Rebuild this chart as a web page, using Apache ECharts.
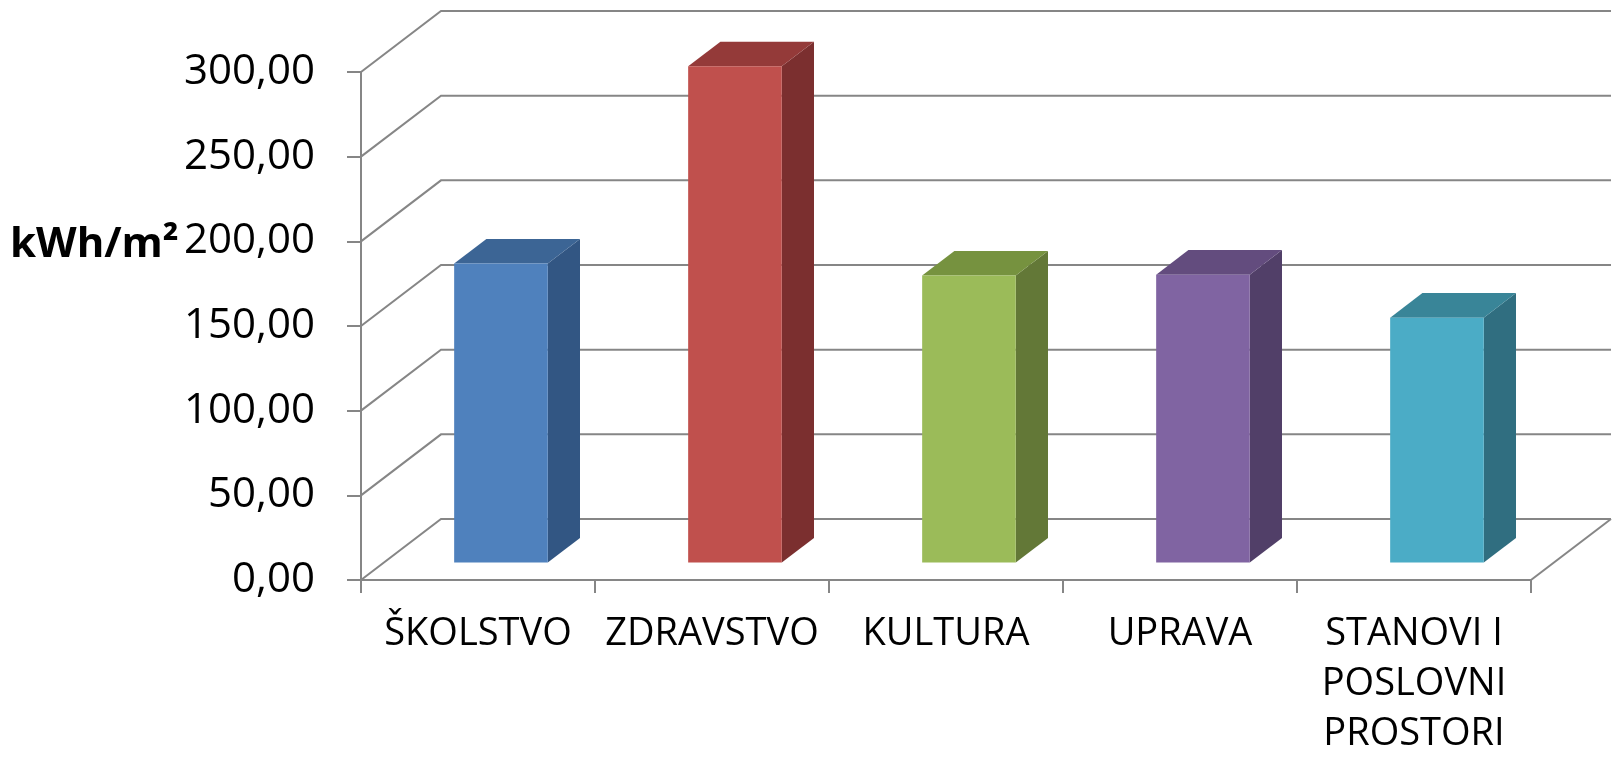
<!DOCTYPE html>
<html>
<head>
<meta charset="utf-8">
<script src="https://cdn.jsdelivr.net/npm/echarts@6/dist/echarts.min.js"></script>
<style>
    html, body { margin: 0; padding: 0; background: #fff; }
    #chart { width: 1617px; height: 759px; }
</style>
</head>
<body>
<div id="chart"></div>
<script>
    // podaci
    const categories = ["ŠKOLSTVO", "ZDRAVSTVO", "KULTURA", "UPRAVA", "STANOVI I\nPOSLOVNI\nPROSTORI"];
    const values = [176.5, 293, 169.5, 170, 144.6];
    const yTicks = [0, 50, 100, 150, 200, 250, 300];

    // boje: prednja strana, vrh, bok
    const faceColors = ["#4F81BD", "#C0504D", "#9BBB59", "#8064A2", "#4BACC6"];
    const topColors = ["#3C6595", "#943A39", "#76923F", "#634C7E", "#398598"];
    const sideColors = ["#325683", "#7B2F2F", "#637837", "#513F68", "#306E80"];

    // dubina 3D prikaza (px)
    const DX = 80;
    const DY = -61;
    const F0 = 0.287; // prednja strana stupca
    const F1 = 0.69;  // zadnja strana stupca
    const BAR_W = 0.40;
    const lineColor = "#868686";
    const font = "'Open Sans', 'Liberation Sans', sans-serif";

    const chart = echarts.init(document.getElementById("chart"));

    // zidovi i pod (pomoćne linije)
    const renderWall = (params, api) => {
        const v = api.value(1);
        const bw = api.size([1, 0])[0];
        const p = api.coord([0, v]);
        const pr = api.coord([categories.length - 1, v]);
        const left = p[0] - bw / 2;
        const right = pr[0] + bw / 2;
        const y = p[1];
        const children = [{
            type: "polyline",
            shape: { points: [[left, y], [left + DX, y + DY], [right + DX, y + DY]] },
            style: { stroke: lineColor, lineWidth: 2, fill: null }
        }];
        if (v === 0) {
            children.push({
                type: "polyline",
                shape: { points: [[right, y], [right + DX, y + DY]] },
                style: { stroke: lineColor, lineWidth: 2, fill: null }
            });
        }
        return { type: "group", children: children };
    };

    // 3D stupci
    const renderBar = (params, api) => {
        const i = params.dataIndex;
        const top = api.coord([api.value(0), api.value(1)]);
        const base = api.coord([api.value(0), 0]);
        const bw = api.size([1, 0])[0];
        const w = bw * BAR_W;
        const cx = top[0] + DX * F0;
        const xl = cx - w / 2;
        const xr = cx + w / 2;
        const yt = top[1] + DY * F0;
        const yb = base[1] + DY * F0;
        const sx = DX * (F1 - F0);
        const sy = DY * (F1 - F0);
        return {
            type: "group",
            children: [
                {
                    type: "polygon",
                    shape: { points: [[xr, yt], [xr + sx, yt + sy], [xr + sx, yb + sy], [xr, yb]] },
                    style: { fill: sideColors[i] }
                },
                {
                    type: "polygon",
                    shape: { points: [[xl, yt], [xl + sx, yt + sy], [xr + sx, yt + sy], [xr, yt]] },
                    style: { fill: topColors[i] }
                },
                {
                    type: "rect",
                    shape: { x: xl, y: yt, width: w, height: yb - yt },
                    style: { fill: faceColors[i] }
                }
            ]
        };
    };

    const option = {
        animation: false,
        backgroundColor: "#fff",
        grid: {
            left: 361,
            right: 86,
            top: 72,
            bottom: 175.5,
            containLabel: false
        },
        graphic: [
            {
                type: "text",
                left: 10,
                top: 224,
                style: {
                    text: "kWh/m²",
                    font: "bold 42px " + font,
                    fill: "#000"
                }
            }
        ],
        xAxis: {
            type: "category",
            data: categories,
            axisLine: { lineStyle: { color: lineColor, width: 2 } },
            axisTick: { show: true, length: 13, lineStyle: { color: lineColor, width: 2 } },
            axisLabel: {
                interval: 0,
                margin: 29,
                color: "#000",
                fontFamily: font,
                fontSize: 38,
                lineHeight: 50
            },
            splitLine: { show: false }
        },
        yAxis: {
            type: "value",
            min: 0,
            max: 300,
            interval: 50,
            axisLine: { show: true, lineStyle: { color: lineColor, width: 2 } },
            axisTick: { show: true, length: 14, lineStyle: { color: lineColor, width: 2 } },
            axisLabel: {
                margin: 46,
                color: "#000",
                fontFamily: font,
                fontSize: 42,
                formatter: (v) => v.toFixed(2).replace(".", ",")
            },
            // mrežu crtamo sami
            splitLine: { show: false }
        },
        series: [
            {
                type: "custom",
                name: "zidovi",
                z: 1,
                silent: true,
                renderItem: renderWall,
                data: yTicks.map((v) => [0, v])
            },
            {
                type: "custom",
                name: "kWh/m²",
                z: 3,
                renderItem: renderBar,
                data: values.map((v, i) => [i, v])
            }
        ]
    };
    chart.setOption(option);
</script>
</body>
</html>
